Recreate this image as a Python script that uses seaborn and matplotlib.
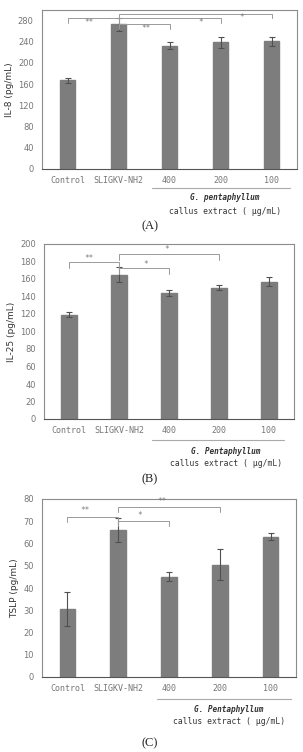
import numpy as np
import pandas as pd
import matplotlib
matplotlib.use("Agg")
import matplotlib.pyplot as plt
from matplotlib.lines import Line2D
import seaborn as sns

# data
groups = ["Control", "SLIGKV-NH2", "400", "200", "100"]

il8_mean = [167, 273, 233, 239, 241]
il8_err = [4, 12, 6, 11, 8]

il25_mean = [119, 165, 144, 150, 157]
il25_err = [3, 9, 3, 3, 5]

tslp_mean = [30.5, 66, 45, 50.5, 63]
tslp_err = [7.5, 5.5, 2, 7, 1.5]

# significance brackets: (from, to, bracket height, label, label x, label y)
il8_sig = [(0, 1, 285, "**", 0.42, 276), (1, 2, 274, "**", 1.54, 265),
           (1, 3, 285, "*", 2.62, 277), (1, 4, 293, "*", 3.42, 285)]
il25_sig = [(0, 1, 179, "**", 0.40, 183), (1, 2, 173, "*", 1.54, 177),
            (1, 3, 189, "*", 1.96, 194)]
tslp_sig = [(0, 1, 72, "**", 0.35, 75), (1, 2, 70.3, "*", 1.43, 72.4),
            (1, 3, 76.6, "**", 1.86, 78.8)]

W, H = 303, 752
fig = plt.figure(figsize=(W / 100, H / 100), dpi=100)
sns.set_style("white")
plt.rcParams["font.family"] = ["DejaVu Sans"]

BAR = "#7d7d7d"
FRAME = "#8c8c8c"
TXT = "#777777"


def fy(y):
    return 1 - y / H


def panel(box, means, errs, sig, ylim, ytop, ystep, drop, ylabel, species, letter, under):
    left, top, right, bottom = box
    ax = fig.add_axes([left / W, fy(bottom), (right - left) / W, (bottom - top) / H])
    df = pd.DataFrame({"group": groups, "value": means})
    sns.barplot(data=df, x="group", y="value", color=BAR, width=0.31,
                saturation=1, ax=ax, edgecolor=BAR)
    ax.errorbar(range(len(groups)), means, yerr=errs, fmt="none",
                ecolor="#505050", elinewidth=0.8, capsize=2, capthick=0.8)
    ax.set_xlim(-0.5, 4.5)
    ax.set_ylim(0, ylim)
    ax.set_yticks(np.arange(0, ytop + 0.1, ystep))
    ax.set_xlabel("")
    ax.set_ylabel(ylabel, fontsize=6.5, color="#333333", labelpad=3)
    ax.set_xticks(range(5))
    ax.set_xticklabels(groups, family="DejaVu Sans Mono", fontsize=6, color=TXT)
    ax.set_xticks(np.arange(0.5, 4.5, 1), minor=True)
    ax.tick_params(axis="x", which="major", length=0, pad=5)
    ax.tick_params(axis="x", which="minor", length=2, direction="in", color="#444444")
    ax.tick_params(axis="y", labelsize=6, labelcolor=TXT, length=2, color=FRAME, pad=4)
    for s in ax.spines.values():
        s.set_color(FRAME)
        s.set_linewidth(0.8)
    ax.spines["bottom"].set_color("#555555")

    for a, b, h, lab, tx, ty in sig:
        ax.plot([a, a, b, b], [h - drop, h, h, h - drop], color="#9a9a9a", lw=0.7)
        ax.text(tx, ty, lab, ha="center", va="center",
                fontsize=5.5, color="#777777", family="DejaVu Sans Mono")

    # group annotation under the dose labels
    x0, x1, yl, cx, ys, yc, yletter = under
    fig.add_artist(Line2D([x0 / W, x1 / W], [fy(yl)] * 2, color="#aaaaaa", lw=0.8))
    fig.text(cx / W, fy(ys), species, ha="center", va="center", style="italic",
             weight="bold", fontsize=5.6, color="#333333", family="DejaVu Sans Mono")
    fig.text(cx / W, fy(yc), "callus extract ( \u03bcg/mL)", ha="center", va="center",
             fontsize=5.8, color="#333333", family="DejaVu Sans Mono")
    fig.text(150 / W, fy(yletter), letter, ha="center", va="center",
             fontsize=9, color="#222222", family="Liberation Serif")
    return ax


panel((42, 10, 297, 169), il8_mean, il8_err, il8_sig, 300, 280, 40, 9,
      "IL-8 (pg/mL)", "G. pentaphyllum", "(A)", (152, 290, 188, 225, 198, 211, 226))
panel((44, 244, 294, 419), il25_mean, il25_err, il25_sig, 200, 200, 20, 7,
      "IL-25 (pg/mL)", "G. Pentaphyllum", "(B)", (152, 284, 440, 226, 452, 464, 479))
panel((42, 499, 296, 677), tslp_mean, tslp_err, tslp_sig, 80, 80, 10, 2.5,
      "TSLP (pg/mL)", "G. Pentaphyllum", "(C)", (157, 291, 699, 229, 710, 722, 743))

fig.savefig("out.png", dpi=100)
